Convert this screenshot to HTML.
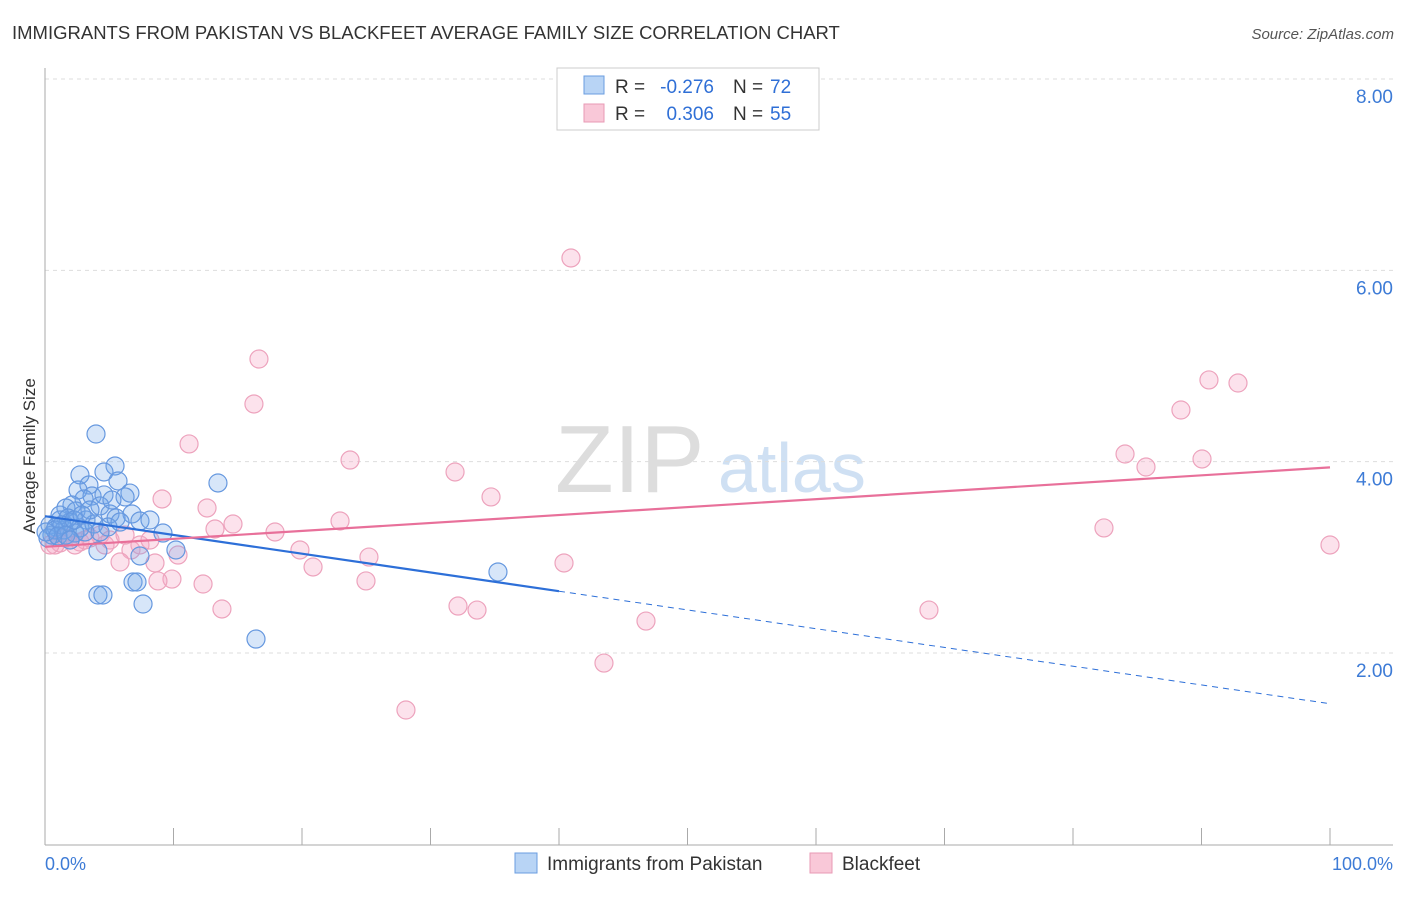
<!DOCTYPE html>
<html><head><meta charset="utf-8"><style>
body{margin:0;background:#fff;font-family:"Liberation Sans",sans-serif;}
svg text{font-family:"Liberation Sans",sans-serif;}
</style></head><body>
<svg id="chart" width="1406" height="892" xmlns="http://www.w3.org/2000/svg">
<text x="12" y="39" font-size="18.5" fill="#333">IMMIGRANTS FROM PAKISTAN VS BLACKFEET AVERAGE FAMILY SIZE CORRELATION CHART</text>
<text x="1394" y="39" font-size="15" fill="#555" font-style="italic" text-anchor="end">Source: ZipAtlas.com</text>
<text x="35" y="456" font-size="17" fill="#333" text-anchor="middle" transform="rotate(-90 35 456)">Average Family Size</text>
<text x="555" y="492" font-size="96" fill="#ddd" font-family="Liberation Serif">ZIP</text>
<text x="718" y="492" font-size="70" fill="#cfe0f3">atlas</text>
<g id="grid"></g><g id="axes"></g><g id="pts"></g><g id="lines"></g>
<g>
<rect x="557" y="68" width="262" height="62" fill="#fff" stroke="#ccc"/>
<rect x="584" y="76" width="20" height="18" fill="#b8d4f5" stroke="#6a9de0"/>
<rect x="584" y="104" width="20" height="18" fill="#f9c8d8" stroke="#e89ab5"/>
<text x="615" y="93" font-size="19" fill="#333">R =</text>
<text x="714" y="93" font-size="19" fill="#2f6fd6" text-anchor="end">-0.276</text>
<text x="733" y="93" font-size="19" fill="#333">N =</text>
<text x="770" y="93" font-size="19" fill="#2f6fd6">72</text>
<text x="615" y="120" font-size="19" fill="#333">R =</text>
<text x="714" y="120" font-size="19" fill="#2f6fd6" text-anchor="end">0.306</text>
<text x="733" y="120" font-size="19" fill="#333">N =</text>
<text x="770" y="120" font-size="19" fill="#2f6fd6">55</text>
</g>
<g>
<rect x="515" y="853" width="22" height="20" fill="#b8d4f5" stroke="#6a9de0"/>
<text x="547" y="870" font-size="19" fill="#333">Immigrants from Pakistan</text>
<rect x="810" y="853" width="22" height="20" fill="#f9c8d8" stroke="#e89ab5"/>
<text x="842" y="870" font-size="19" fill="#333">Blackfeet</text>
</g>
<text x="45" y="870" font-size="18" fill="#3d7bd6">0.0%</text>
<text x="1393" y="870" font-size="18" fill="#3d7bd6" text-anchor="end">100.0%</text>
</svg>
<script>
const yTicks=[2,4,6,8];
const yTickLabels=["2.00","4.00","6.00","8.00"];
const bluePx=[[96,434],[115,466],[104,472],[80,475],[118,481],[218,483],[89,485],[78,490],[130,493],[92,496],[125,497],[84,499],[104,495],[72,505],[100,506],[66,508],[76,511],[110,514],[132,514],[140,521],[116,518],[86,520],[60,520],[70,522],[50,525],[56,527],[64,530],[80,528],[94,524],[108,527],[163,533],[75,533],[52,535],[48,538],[85,532],[100,532],[176,550],[98,551],[140,556],[133,582],[137,582],[98,595],[103,595],[143,604],[256,639],[498,572],[60,515],[68,518],[55,530],[62,525],[46,532],[90,510],[74,520],[120,522],[150,520],[82,515],[58,536],[66,535],[112,500],[70,540]];
const pinkPx=[[571,258],[259,359],[254,404],[1209,380],[1238,383],[1181,410],[189,444],[350,460],[455,472],[1125,454],[1146,467],[1202,459],[162,499],[491,497],[207,508],[340,521],[233,524],[215,529],[275,532],[1104,528],[1330,545],[300,550],[369,557],[178,555],[131,550],[564,563],[120,562],[155,563],[313,567],[172,579],[158,581],[203,584],[366,581],[458,606],[477,610],[222,609],[929,610],[646,621],[604,663],[406,710],[60,543],[70,540],[80,542],[90,538],[100,535],[110,540],[55,545],[65,538],[125,535],[140,545],[150,540],[50,545],[105,545],[85,540],[75,545]];
const toX=p=>+((p-45)/12.85).toFixed(2), toV=p=>+(2+(653-p)/95.67).toFixed(3);
const blueX=bluePx.map(p=>toX(p[0])), blueY=bluePx.map(p=>toV(p[1]));
const pinkX=pinkPx.map(p=>toX(p[0])), pinkY=pinkPx.map(p=>toV(p[1]));
const blueTrend=[3.43,-0.0196];
const pinkTrend=[3.11,0.0083];
const blueSolidEnd=40;
const sx=v=>45+v*12.85, sy=v=>653-(v-2)*95.67;
const NS="http://www.w3.org/2000/svg";
function mk(t,a,parent){const e=document.createElementNS(NS,t);for(const k in a)e.setAttribute(k,a[k]);document.getElementById(parent).appendChild(e);return e;}
yTicks.forEach((v,i)=>{
 const g=mk('line',{x1:45,x2:1393,y1:sy(v),y2:sy(v),stroke:'#ddd','stroke-dasharray':'4,4'},'grid');
 
 
 const t=mk('text',{x:1393,y:sy(v)+24,'font-size':19,fill:'#3d7bd6','text-anchor':'end'},'grid');
 t.textContent=yTickLabels[i];
 
 
});
const ax=mk('line',{x1:45,x2:1393,y1:845,y2:845,stroke:'#aaa'},'axes');


const ay=mk('line',{x1:45,x2:45,y1:68,y2:845,stroke:'#aaa'},'axes');


for(let i=1;i<=10;i++){const tk=mk('line',{x1:sx(i*10),x2:sx(i*10),y1:828,y2:845,stroke:'#aaa'},'axes');
 
 }
function dots(xs,ys,fill,stroke,name){xs.forEach((x,i)=>{const c=mk('circle',{cx:sx(x),cy:sy(ys[i]),r:9,fill:fill,stroke:stroke,'stroke-width':1.2},'pts');
 
 });}
dots(pinkX,pinkY,'rgba(246,168,196,0.33)','#eda3bd','blackfeet-point');
dots(blueX,blueY,'rgba(110,165,235,0.28)','#6698df','pakistan-point');
const f=(t,x)=>t[0]+t[1]*x;
const l1=mk('line',{x1:sx(0),y1:sy(f(blueTrend,0)),x2:sx(blueSolidEnd),y2:sy(f(blueTrend,blueSolidEnd)),stroke:'#2d6fd8','stroke-width':2.2},'lines');


const l2=mk('line',{x1:sx(blueSolidEnd),y1:sy(f(blueTrend,blueSolidEnd)),x2:sx(100),y2:sy(f(blueTrend,100)),stroke:'#2d6fd8','stroke-width':1,'stroke-dasharray':'6,5'},'lines');


const l3=mk('line',{x1:sx(0),y1:sy(f(pinkTrend,0)),x2:sx(100),y2:sy(f(pinkTrend,100)),stroke:'#e8709a','stroke-width':2.2},'lines');


</script>
</body></html>
